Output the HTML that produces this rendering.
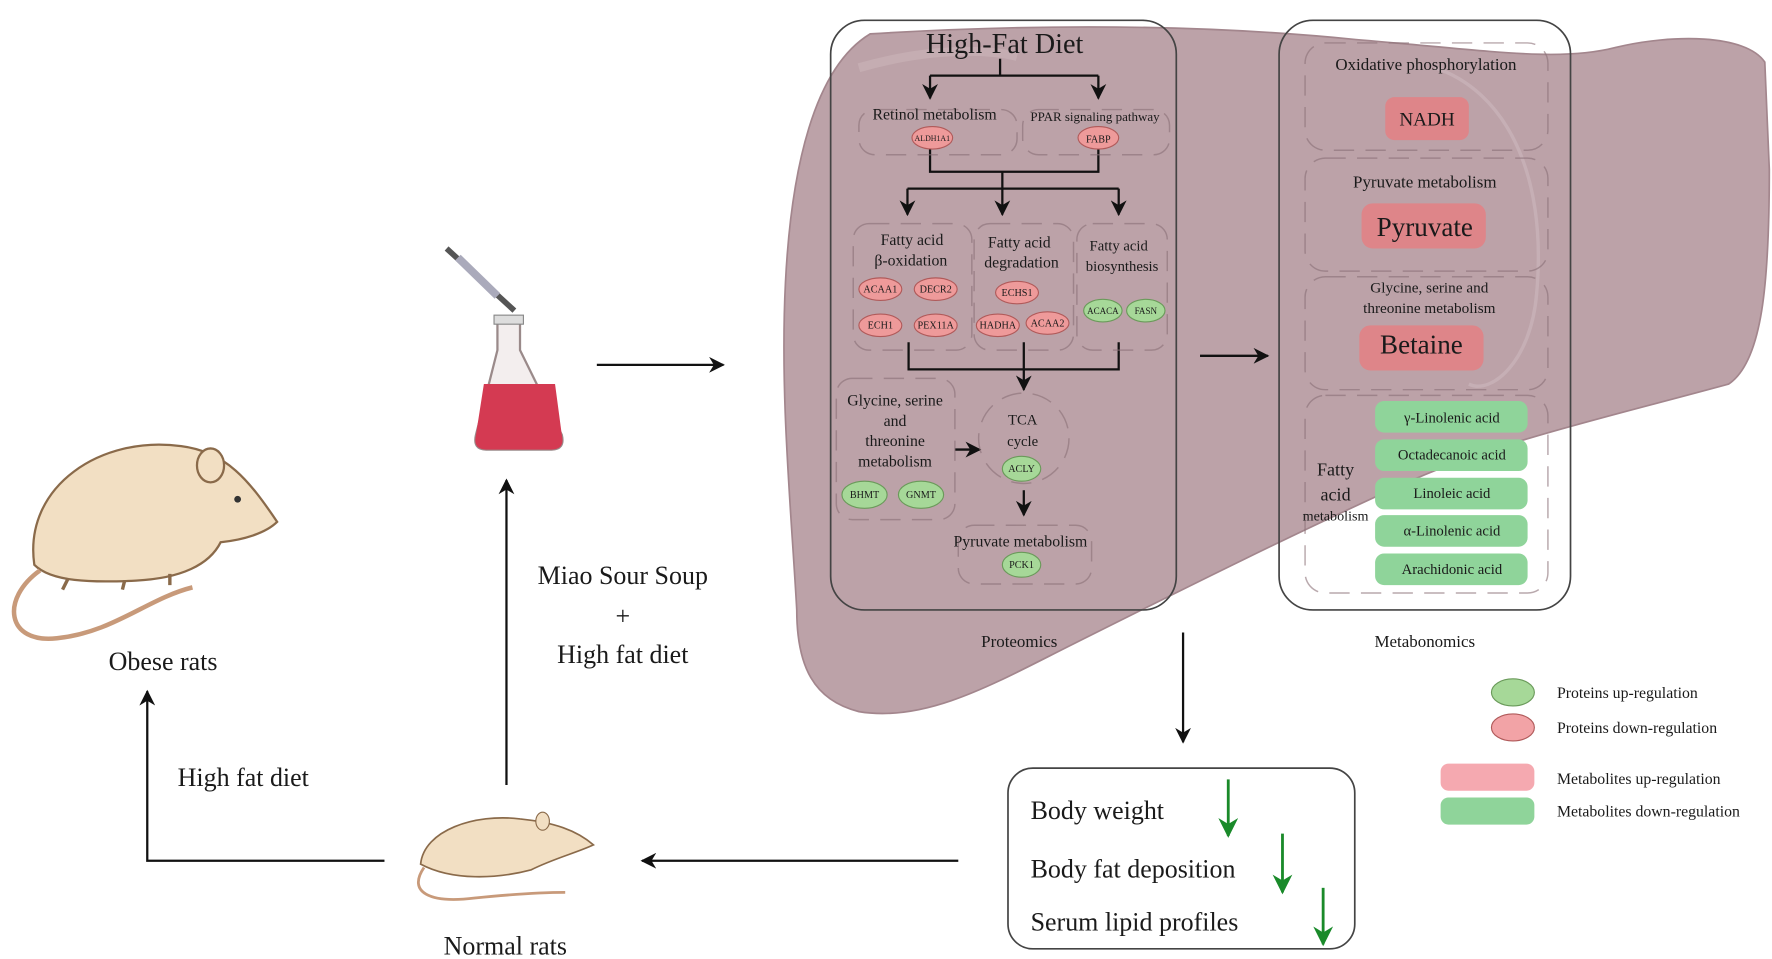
<!DOCTYPE html>
<html><head><meta charset="utf-8"><style>
html,body{margin:0;padding:0;background:#fff;width:1772px;height:959px;overflow:hidden}
svg{display:block}
text{font-family:"Liberation Serif",serif;fill:#1a1a1a}
</style></head><body>
<svg width="1772" height="959" viewBox="0 0 1568 849" xmlns="http://www.w3.org/2000/svg">
<defs>
<marker id="ah" viewBox="0 0 10 10" refX="9" refY="5" markerWidth="7" markerHeight="7" orient="auto"><path d="M0,0 L10,5 L0,10 L3,5 z" fill="#111"/></marker>
<marker id="ag" viewBox="0 0 10 10" refX="9" refY="5" markerWidth="7" markerHeight="7" orient="auto"><path d="M0,0 L10,5 L0,10 L3,5 z" fill="#1a8a2a"/></marker>
</defs>
<!-- liver -->
<path d="M770,30 C900,22 1050,20 1200,35 C1320,45 1380,55 1430,42 C1480,30 1545,30 1562,55 L1566,150 C1566,250 1560,320 1530,340 C1420,370 1330,390 1250,425 C1150,470 1050,520 950,570 C880,605 820,640 760,630 C720,620 705,590 705,540 C700,450 690,350 695,250 C700,150 720,60 770,30 z" fill="#bca2a8" stroke="#a3868d" stroke-width="1.5"/>
<path d="M1270,60 C1330,80 1370,150 1360,260 C1355,320 1320,350 1300,340" fill="none" stroke="#cbb5ba" stroke-width="3" opacity="0.7"/>
<path d="M760,60 C830,40 880,45 900,50" fill="none" stroke="#cdb8bc" stroke-width="8" opacity="0.5"/>
<!-- boxes -->
<rect x="735" y="18" width="306" height="522" rx="30" fill="none" stroke="#444" stroke-width="1.5"/>
<rect x="1132" y="18" width="258" height="522" rx="30" fill="none" stroke="#444" stroke-width="1.5"/>
<!-- proteomics content -->
<text x="889" y="47" font-size="25" text-anchor="middle">High-Fat Diet</text>
<g stroke="#111" stroke-width="2" fill="none">
<path d="M885,52 V67 M823,67 H972 M823,67 V87" marker-end="url(#ah)"/>
<path d="M972,67 V87" marker-end="url(#ah)"/>
<path d="M823,130 V152 H972 V130 M887,152 V167 M803,167 H990 M803,167 V190" marker-end="url(#ah)"/>
<path d="M887,167 V190" marker-end="url(#ah)"/>
<path d="M990,167 V190" marker-end="url(#ah)"/>
<path d="M804,303 V327 H990 V303 M906,303 V345" marker-end="url(#ah)"/>
<path d="M845,398 H867" marker-end="url(#ah)"/>
<path d="M906,434 V456" marker-end="url(#ah)"/>
</g>
<g stroke="#8a7077" stroke-width="1.3" fill="none" stroke-dasharray="18,10" opacity="0.6">
<rect x="760" y="97" width="140" height="40" rx="14"/>
<rect x="905" y="97" width="130" height="40" rx="14"/>
<rect x="755" y="198" width="105" height="112" rx="14"/>
<rect x="862" y="198" width="88" height="112" rx="14"/>
<rect x="953" y="198" width="80" height="112" rx="14"/>
<rect x="740" y="335" width="105" height="125" rx="14"/>
<rect x="848" y="465" width="118" height="52" rx="14"/>
<circle cx="906" cy="388" r="40"/>
<rect x="1155" y="38" width="215" height="95" rx="18"/>
<rect x="1155" y="140" width="215" height="100" rx="18"/>
<rect x="1155" y="245" width="215" height="100" rx="18"/>
<rect x="1155" y="350" width="215" height="175" rx="18"/>
</g>
<text x="827" y="106" font-size="14" text-anchor="middle">Retinol metabolism</text>
<text x="969" y="107" font-size="11.5" text-anchor="middle">PPAR signaling pathway</text>
<g stroke="#b05a5a" stroke-width="1" fill="#ee9a9a">
<ellipse cx="825" cy="122" rx="18" ry="10"/><ellipse cx="972" cy="122" rx="18" ry="10"/>
<ellipse cx="779" cy="256" rx="19" ry="10"/><ellipse cx="828" cy="256" rx="19" ry="10"/>
<ellipse cx="779" cy="288" rx="19" ry="10"/><ellipse cx="828" cy="288" rx="19" ry="10"/>
<ellipse cx="900" cy="259" rx="19" ry="10"/><ellipse cx="883" cy="288" rx="19" ry="10"/><ellipse cx="927" cy="286" rx="19" ry="10"/>
</g>
<g stroke="#6a9a5a" stroke-width="1" fill="#a6d898">
<ellipse cx="976" cy="275" rx="17" ry="10"/><ellipse cx="1014" cy="275" rx="17" ry="10"/>
<ellipse cx="765" cy="438" rx="20" ry="12"/><ellipse cx="815" cy="438" rx="20" ry="12"/>
<ellipse cx="904" cy="415" rx="17" ry="11"/><ellipse cx="904" cy="500" rx="17" ry="11"/>
</g>
<g font-size="9" text-anchor="middle">
<text x="825" y="125" font-size="7">ALDH1A1</text><text x="972" y="126">FABP</text>
<text x="779" y="259">ACAA1</text><text x="828" y="259">DECR2</text>
<text x="779" y="291">ECH1</text><text x="828" y="291">PEX11A</text>
<text x="900" y="262">ECHS1</text><text x="883" y="291">HADHA</text><text x="927" y="289">ACAA2</text>
<text x="976" y="278" font-size="8">ACACA</text><text x="1014" y="278" font-size="8">FASN</text>
<text x="765" y="441">BHMT</text><text x="815" y="441">GNMT</text>
<text x="904" y="418">ACLY</text><text x="904" y="503">PCK1</text>
</g>
<g font-size="14" text-anchor="middle">
<text x="807" y="217">Fatty acid</text><text x="806" y="235">β-oxidation</text>
<text x="902" y="219">Fatty acid</text><text x="904" y="237">degradation</text>
<text x="990" y="222" font-size="13">Fatty acid</text><text x="993" y="240" font-size="13">biosynthesis</text>
<text x="792" y="359">Glycine, serine</text><text x="792" y="377">and</text><text x="792" y="395">threonine</text><text x="792" y="413">metabolism</text>
<text x="905" y="376" font-size="13">TCA</text><text x="905" y="395" font-size="13">cycle</text>
<text x="903" y="484">Pyruvate metabolism</text>
<text x="902" y="573" font-size="15">Proteomics</text>
<text x="1261" y="573" font-size="15">Metabonomics</text>
</g>
<!-- metabonomics -->
<g font-size="15" text-anchor="middle">
<text x="1262" y="62">Oxidative phosphorylation</text>
<text x="1261" y="166">Pyruvate metabolism</text>
<text x="1265" y="259" font-size="13.5">Glycine, serine and</text>
<text x="1265" y="277" font-size="13.5">threonine metabolism</text>
</g>
<rect x="1226" y="86" width="74" height="38" rx="8" fill="#de8589"/>
<text x="1263" y="111" font-size="17" text-anchor="middle">NADH</text>
<rect x="1205" y="180" width="110" height="40" rx="10" fill="#de8589"/>
<text x="1261" y="209" font-size="24" text-anchor="middle">Pyruvate</text>
<rect x="1203" y="288" width="110" height="40" rx="10" fill="#de8589"/>
<text x="1258" y="313" font-size="24" text-anchor="middle">Betaine</text>
<g fill="#8fd49a">
<rect x="1217" y="355" width="135" height="28" rx="8"/><rect x="1217" y="389" width="135" height="28" rx="8"/>
<rect x="1217" y="423" width="135" height="28" rx="8"/><rect x="1217" y="456" width="135" height="28" rx="8"/>
<rect x="1217" y="490" width="135" height="28" rx="8"/>
</g>
<g font-size="13" text-anchor="middle">
<text x="1285" y="374">γ-Linolenic acid</text><text x="1285" y="407">Octadecanoic acid</text>
<text x="1285" y="441">Linoleic acid</text><text x="1285" y="474">α-Linolenic acid</text>
<text x="1285" y="508">Arachidonic acid</text>
<text x="1182" y="421" font-size="16">Fatty</text><text x="1182" y="443" font-size="16">acid</text><text x="1182" y="461" font-size="12.5">metabolism</text>
</g>
<!-- arrows -->
<g stroke="#111" stroke-width="2" fill="none">
<path d="M528,323 H640" marker-end="url(#ah)"/>
<path d="M1062,315 H1122" marker-end="url(#ah)"/>
<path d="M1047,560 V657" marker-end="url(#ah)"/>
<path d="M848,762 H568" marker-end="url(#ah)"/>
<path d="M448,695 V425" marker-end="url(#ah)"/>
<path d="M340,762 H130 V612" marker-end="url(#ah)"/>
</g>
<rect x="892" y="680" width="307" height="160" rx="22" fill="none" stroke="#444" stroke-width="1.5"/>
<g font-size="23">
<text x="912" y="725">Body weight</text><text x="912" y="777">Body fat deposition</text><text x="912" y="824">Serum lipid profiles</text>
</g>
<g stroke="#1a8a2a" stroke-width="2.5">
<path d="M1087,690 V740" marker-end="url(#ag)"/><path d="M1135,738 V790" marker-end="url(#ag)"/><path d="M1171,786 V836" marker-end="url(#ag)"/>
</g>
<!-- legend -->
<ellipse cx="1339" cy="613" rx="19" ry="12" fill="#a6d898" stroke="#6a9a5a"/>
<ellipse cx="1339" cy="644" rx="19" ry="12" fill="#f2a3a6" stroke="#b05a5a"/>
<rect x="1275" y="676" width="83" height="24" rx="7" fill="#f5a9b0"/>
<rect x="1275" y="706" width="83" height="24" rx="7" fill="#8fd49a"/>
<g font-size="14">
<text x="1378" y="618">Proteins up-regulation</text><text x="1378" y="649">Proteins down-regulation</text>
<text x="1378" y="694">Metabolites up-regulation</text><text x="1378" y="723">Metabolites down-regulation</text>
</g>
<!-- labels -->
<g font-size="23" text-anchor="middle">
<text x="551" y="517">Miao Sour Soup</text><text x="551" y="553">+</text><text x="551" y="587">High fat diet</text>
<text x="144" y="593">Obese rats</text><text x="215" y="696">High fat diet</text><text x="447" y="845">Normal rats</text>
</g>
<!-- flask -->
<path d="M440,285 H460 V310 L497,385 Q500,398 488,398 H430 Q418,398 421,385 L440,310 z" fill="#f3eeee" stroke="#9a8a8a" stroke-width="2"/>
<path d="M428,340 H491 L497,385 Q500,398 488,398 H430 Q418,398 421,385 z" fill="#d43a52"/>
<rect x="437" y="279" width="26" height="8" fill="#ddd" stroke="#888"/>
<path d="M395,220 L455,275" stroke="#555" stroke-width="5"/>
<path d="M405,228 L440,262" stroke="#aab" stroke-width="7"/>
<!-- obese rat -->
<path d="M30,500 C20,430 90,385 160,395 C200,400 220,425 245,462 C235,472 215,478 195,480 C185,500 160,512 120,514 C80,516 45,515 30,500 z" fill="#f2dfc3" stroke="#8a6a4a" stroke-width="2"/>
<ellipse cx="186" cy="412" rx="12" ry="15" fill="#f2dfc3" stroke="#8a6a4a" stroke-width="2"/>
<circle cx="210" cy="442" r="3" fill="#333"/>
<path d="M60,512 L55,522 M110,514 L108,522 M150,508 L150,518" stroke="#8a6a4a" stroke-width="3"/>
<path d="M35,505 C0,530 5,570 50,565 C100,560 130,530 170,520" fill="none" stroke="#c89a7a" stroke-width="4"/>
<!-- normal rat -->
<path d="M372,765 C375,735 420,720 460,725 C490,728 510,735 525,748 C510,755 490,760 470,770 C440,778 400,780 372,765 z" fill="#f2dfc3" stroke="#8a6a4a" stroke-width="1.5"/>
<ellipse cx="480" cy="727" rx="6" ry="8" fill="#f2dfc3" stroke="#8a6a4a"/>
<path d="M375,768 C360,790 380,800 420,795 C450,792 480,790 500,790" fill="none" stroke="#c89a7a" stroke-width="2.5"/>
</svg>
</body></html>
